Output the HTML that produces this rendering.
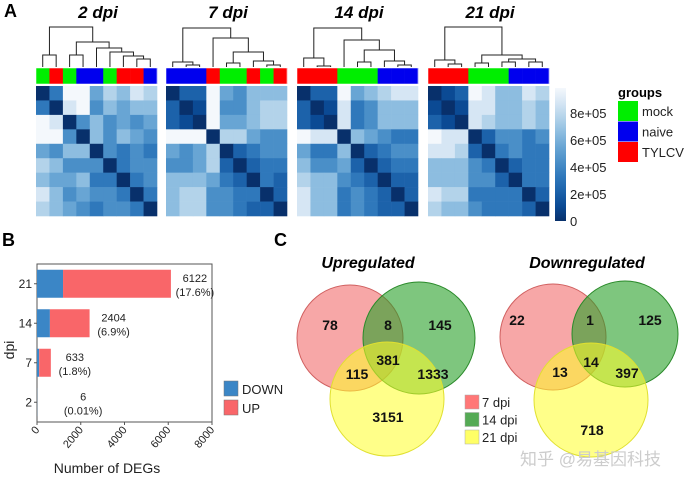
<!DOCTYPE html>
<html><head><meta charset="utf-8"><style>
body{margin:0;background:#fff;}
svg{display:block;font-family:"Liberation Sans",Arial,sans-serif;}
</style></head><body>
<svg id="fig" width="685" height="479" viewBox="0 0 685 479">
<text x="4" y="17" font-size="18" font-weight="bold">A</text>
<text x="2" y="246" font-size="18" font-weight="bold">B</text>
<text x="274" y="246" font-size="18" font-weight="bold">C</text>
<g id="heat"></g>
<g id="bars"></g>
<g id="venn"></g>
<text x="520" y="465" font-size="17" fill="#ccc" font-family="'Liberation Sans','Noto Sans CJK SC',sans-serif">知乎 @易基因科技</text>
</svg>
<script>
const NS='http://www.w3.org/2000/svg';
function mk(tag,attrs,parent,text){const e=document.createElementNS(NS,tag);for(const k in attrs)e.setAttribute(k,attrs[k]);if(text!==undefined)e.textContent=text;parent.appendChild(e);return e;}

// ---------- Heatmap data ----------
const heatTitles=['2 dpi','7 dpi','14 dpi','21 dpi'];
const heatX=[36,166,297,428];
const groupsH=[['G','R','G','B','B','G','R','R','B'],['B','B','B','R','G','G','R','G','R'],['R','R','R','G','G','G','B','B','B'],['R','R','R','G','G','G','B','B','B']];
const m2=[[0,3,9,9,5,7,6,8,7],[3,0,8,9,4,6,5,6,6],[9,8,0,4,6,4,5,4,5],[9,9,4,0,6,4,6,5,4],[5,4,6,6,0,4,3,4,3],[7,6,4,4,4,0,3,4,4],[6,5,5,6,3,3,0,3,4],[8,6,4,5,4,4,3,0,3],[7,6,5,4,3,4,4,3,0]];
const m7=[[0,2,2,9,5,4,6,6,6],[2,0,1,9,4,4,6,7,7],[2,1,0,9,5,5,6,7,7],[9,9,9,0,7,7,5,4,4],[5,4,5,7,0,2,3,4,4],[4,4,5,7,2,0,2,3,3],[6,6,6,5,3,2,0,3,2],[6,7,7,4,4,3,3,0,2],[6,7,7,4,4,3,2,2,0]];
const m14=[[0,2,2,9,5,6,7,8,8],[2,0,1,8,3,4,6,6,6],[2,1,0,8,3,4,6,6,6],[9,8,8,0,6,5,4,3,3],[5,3,3,6,0,2,3,4,4],[6,4,4,5,2,0,2,3,3],[7,6,6,4,3,2,0,2,2],[8,6,6,3,4,3,2,0,2],[8,6,6,3,4,3,2,2,0]];
const m21=[[0,1,2,9,8,6,6,8,7],[1,0,1,8,8,6,6,7,6],[2,1,0,8,7,6,6,7,6],[9,8,8,0,2,4,4,3,4],[8,8,7,2,0,3,4,3,3],[6,6,6,4,3,0,2,3,3],[6,6,6,4,4,2,0,3,3],[8,7,7,3,3,3,3,0,2],[7,6,6,4,3,3,3,2,0]];
const mats=[m2,m7,m14,m21];
const trees=[
 [[0,1,13],[[2,3,13],[4,[5,[6,[7,8,9],12],16],20],26],41],
 [[0,[1,2,3],6],[3,[[4,5,5],[6,[7,8,3],7],16],30],40],
 [[0,[1,2,2],10],[3,[[4,5,6],[6,[7,8,3],7],18],28],40],
 [[0,[1,2,4],8],[[3,4,5],[[5,6,6],[7,8,6],9],13],41]];
const colorTicks=['0','2e+05','4e+05','6e+05','8e+05'];
const blues=[[8,48,107],[11,74,148],[28,98,170],[47,120,187],[74,143,200],[104,165,212],[141,189,224],[179,211,234],[214,230,244],[244,248,252]];
function blue(v){const c=blues[Math.max(0,Math.min(9,Math.round(v)))];return `rgb(${c})`;}
const gcol={G:'#00ee00',R:'#ff0000',B:'#0000ee'};
const heat=document.getElementById('heat');
const cw=121/9, ch=130/9, hTop=86;
heatTitles.forEach((t,h)=>{
  const x0=heatX[h];
  const tt=mk('text',{x:x0+62,y:18,'font-size':17,'font-weight':'bold','font-style':'italic','text-anchor':'middle'},heat,t);
  
  groupsH[h].forEach((g,i)=>{const r=mk('rect',{x:x0+i*cw,y:68,width:cw+0.3,height:16,fill:gcol[g]},heat);
    });
  mk('rect',{x:x0,y:68,width:121,height:16,fill:'none',stroke:'#fff','stroke-width':0.5},heat);
  mats[h].forEach((row,i)=>row.forEach((v,j)=>{const r=mk('rect',{x:x0+j*cw,y:hTop+i*ch,width:cw+0.3,height:ch+0.3,fill:blue(v)},heat);
    }));
  function draw(n){ if(typeof n==='number') return {x:x0+(n+0.5)*cw,y:67};
    const a=draw(n[0]),b=draw(n[1]),y=68-n[2];
    const p=mk('path',{d:`M${a.x},${a.y}V${y}H${b.x}V${b.y}`,fill:'none',stroke:'#222','stroke-width':1},heat);
    
    return {x:(a.x+b.x)/2,y:y};}
  draw(trees[h]);
});
const grad=mk('defs',{},heat);const lg=mk('linearGradient',{id:'cb',x1:0,y1:1,x2:0,y2:0},grad);
blues.forEach((c,i)=>mk('stop',{offset:i/9,'stop-color':`rgb(${c})`},lg));
const cb=mk('rect',{x:555,y:88,width:11,height:133,fill:'url(#cb)'},heat);

colorTicks.forEach((t,i)=>{const y=221-i*27;
  const tx=mk('text',{x:570,y:y+5,'font-size':13,fill:'#222'},heat,t);
  });
const gl=mk('text',{x:618,y:97,'font-size':13,'font-weight':'bold'},heat,'groups');

[['mock','#00ee00'],['naive','#0000ee'],['TYLCV','#ff0000']].forEach((g,i)=>{
  const r=mk('rect',{x:618,y:101+i*20.5,width:20,height:20,fill:g[1]},heat);
  
  const t=mk('text',{x:642,y:116+i*20.5,'font-size':13,fill:'#222'},heat,g[0]);
  });

// ---------- Bar chart ----------
const dpiCats=['21','14','7','2'];
const downVals=[1190,590,100,6];
const totalVals=[6122,2404,633,6];
const pctLabels=['(17.6%)','(6.9%)','(1.8%)','(0.01%)'];
const xTicks=[0,2000,4000,6000,8000];
const bars=document.getElementById('bars');
const px0=37,px1=212,py0=264,py1=422;
const xs=v=>px0+v/8000*(px1-px0);
const bandY=i=>py0+(i+0.5)*(py1-py0)/4;
mk('rect',{x:px0,y:py0,width:px1-px0,height:py1-py0,fill:'none',stroke:'#555','stroke-width':1},bars);
dpiCats.forEach((c,i)=>{
  const yc=bandY(i),bh=28;
  const d=mk('rect',{x:xs(0),y:yc-bh/2,width:xs(downVals[i])-xs(0),height:bh,fill:'#3b86c6'},bars);
  
  const u=mk('rect',{x:xs(downVals[i]),y:yc-bh/2,width:Math.max(0,xs(totalVals[i])-xs(downVals[i])),height:bh,fill:'#f96669'},bars);
  
  const lx=xs(totalVals[i])+ (i===3?34:12);
  const t1=mk('text',{x:lx+12,y:yc-2,'font-size':11,'text-anchor':'middle',fill:'#222'},bars,String(totalVals[i]));
  
  const t2=mk('text',{x:lx+12,y:yc+12,'font-size':11,'text-anchor':'middle',fill:'#222'},bars,pctLabels[i]);
  
  mk('line',{x1:px0-3,x2:px0,y1:yc,y2:yc,stroke:'#555'},bars);
  const yl=mk('text',{x:px0-5,y:yc+4,'font-size':12,'text-anchor':'end',fill:'#222'},bars,c);
  
});
xTicks.forEach(v=>{const x=xs(v);
  mk('line',{x1:x,x2:x,y1:py1,y2:py1+3,stroke:'#555'},bars);
  const t=mk('text',{x:x+3,y:py1+8,'font-size':11,'text-anchor':'end',fill:'#222',transform:`rotate(-50 ${x+3} ${py1+8})`},bars,String(v));
  });
const xt=mk('text',{x:107,y:473,'font-size':14,'text-anchor':'middle',fill:'#222'},bars,'Number of DEGs');

const yt=mk('text',{x:14,y:350,'font-size':14,'text-anchor':'middle',fill:'#222',transform:'rotate(-90 14 350)'},bars,'dpi');

[['DOWN','#3b86c6'],['UP','#f96669']].forEach((l,i)=>{
  const r=mk('rect',{x:224,y:381+i*19,width:14,height:15,fill:l[1],stroke:'#777','stroke-width':0.5},bars);
  
  const t=mk('text',{x:242,y:394+i*19,'font-size':13,fill:'#222'},bars,l[0]);
  });

// ---------- Venn ----------
const vennTitles=['Upregulated','Downregulated'];
const upCounts=['78','8','145','381','115','1333','3151'];
const downCounts=['22','1','125','14','13','397','718'];
const venn=document.getElementById('venn');
const circles=[[[350,338,53],[419,338,56],[387,399,57]],[[553,337,53],[625,334,53],[591,400,57]]];
const labelPos=[[[330,330],[388,330],[440,330],[388,365],[357,379],[433,379],[388,422]],
                [[517,325],[590,325],[650,325],[591,367],[560,377],[627,378],[592,435]]];
const fills=['rgba(240,80,80,0.5)','rgba(40,160,40,0.6)','rgba(255,255,40,0.55)'];
const strokes=['#d06060','#2a8a2a','#e0e030'];
[upCounts,downCounts].forEach((cnts,k)=>{
  const tt=mk('text',{x:k?587:368,y:268,'font-size':16,'font-weight':'bold','font-style':'italic','text-anchor':'middle'},venn,vennTitles[k]);
  
  circles[k].forEach((c,i)=>{const e=mk('circle',{cx:c[0],cy:c[1],r:c[2],fill:fills[i],stroke:strokes[i],'stroke-width':1},venn);
    });
  cnts.forEach((v,i)=>{const t=mk('text',{x:labelPos[k][i][0],y:labelPos[k][i][1],'font-size':14,'font-weight':'bold','text-anchor':'middle',fill:'#111'},venn,v);
    });
});
[['7 dpi','#f77'],['14 dpi','#5a5'],['21 dpi','#ff6']].forEach((l,i)=>{
  const r=mk('rect',{x:465,y:395+i*17.5,width:14,height:14,fill:l[1],stroke:'#aaa','stroke-width':0.5},venn);
  
  const t=mk('text',{x:482,y:407+i*17.5,'font-size':13,fill:'#222'},venn,l[0]);
  });
</script>
</body></html>
